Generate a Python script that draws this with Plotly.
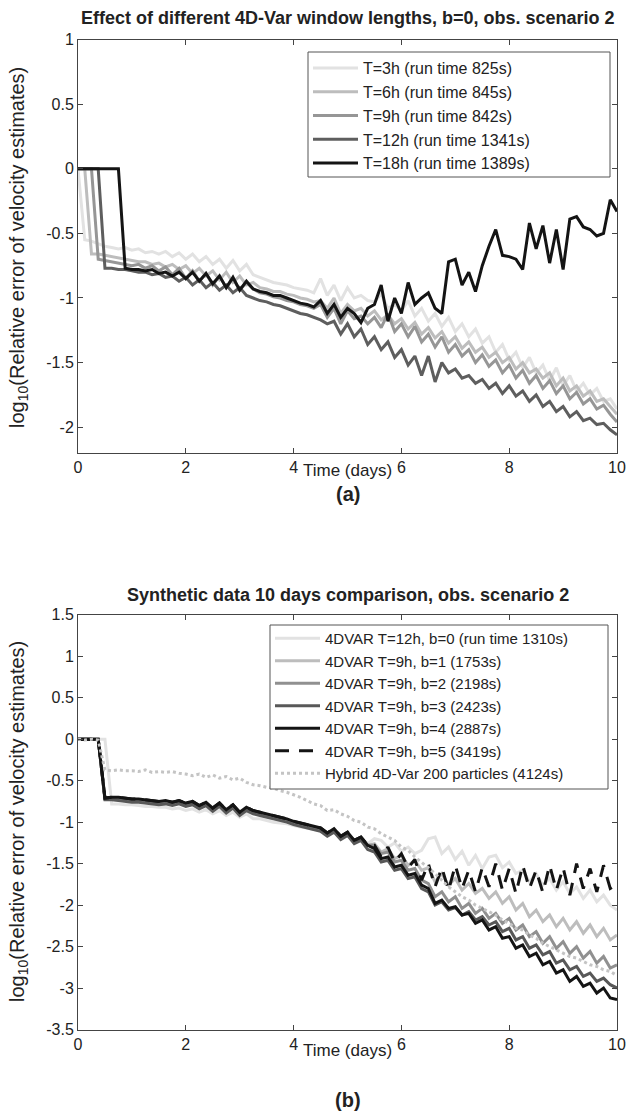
import plotly.graph_objects as go

FONT = "Liberation Sans, Arial, Helvetica, sans-serif"

# time axis (days), 3-hourly output
days = [0, 0.125, 0.25, 0.375, 0.5, 0.625, 0.75, 0.875, 1, 1.125,
        1.25, 1.375, 1.5, 1.625, 1.75, 1.875, 2, 2.125, 2.25, 2.375,
        2.5, 2.625, 2.75, 2.875, 3, 3.125, 3.25, 3.375, 3.5, 3.625,
        3.75, 3.875, 4, 4.125, 4.25, 4.375, 4.5, 4.625, 4.75, 4.875,
        5, 5.125, 5.25, 5.375, 5.5, 5.625, 5.75, 5.875, 6, 6.125,
        6.25, 6.375, 6.5, 6.625, 6.75, 6.875, 7, 7.125, 7.25, 7.375,
        7.5, 7.625, 7.75, 7.875, 8, 8.125, 8.25, 8.375, 8.5, 8.625,
        8.75, 8.875, 9, 9.125, 9.25, 9.375, 9.5, 9.625, 9.75, 9.875,
        10]

# (a) window lengths, b=0
win_3h = [0, -0.55, -0.56, -0.58, -0.60, -0.61, -0.62, -0.61, -0.63, -0.62,
          -0.65, -0.64, -0.66, -0.64, -0.68, -0.65, -0.70, -0.66, -0.72, -0.68,
          -0.74, -0.70, -0.77, -0.71, -0.79, -0.74, -0.82, -0.84, -0.86, -0.88,
          -0.89, -0.90, -0.92, -0.93, -0.94, -0.96, -0.85, -0.98, -0.90, -1.02,
          -0.92, -1.00, -0.98, -1.02, -1.03, -0.97, -1.08, -1.05, -1.10, -1.02,
          -1.14, -1.08, -1.18, -1.12, -1.22, -1.15, -1.26, -1.20, -1.30, -1.24,
          -1.35, -1.30, -1.42, -1.36, -1.48, -1.42, -1.54, -1.46, -1.58, -1.52,
          -1.64, -1.54, -1.68, -1.60, -1.72, -1.66, -1.75, -1.70, -1.80, -1.78,
          -1.86]
win_6h = [0, 0, -0.66, -0.66, -0.67, -0.68, -0.69, -0.70, -0.71, -0.72,
          -0.72, -0.74, -0.73, -0.76, -0.74, -0.78, -0.75, -0.81, -0.77, -0.83,
          -0.79, -0.86, -0.80, -0.88, -0.83, -0.90, -0.88, -0.92, -0.93, -0.95,
          -0.95, -0.97, -0.98, -1.00, -1.01, -1.03, -1.02, -1.08, -1.00, -1.12,
          -1.05, -1.10, -1.08, -1.14, -1.10, -1.17, -1.13, -1.20, -1.16, -1.24,
          -1.19, -1.28, -1.23, -1.31, -1.26, -1.35, -1.30, -1.39, -1.34, -1.42,
          -1.38, -1.46, -1.42, -1.50, -1.46, -1.55, -1.50, -1.58, -1.55, -1.62,
          -1.58, -1.68, -1.62, -1.72, -1.68, -1.76, -1.72, -1.80, -1.78, -1.84,
          -1.90]
win_9h = [0, 0, 0, -0.70, -0.71, -0.72, -0.73, -0.74, -0.75, -0.74,
          -0.77, -0.75, -0.79, -0.76, -0.82, -0.77, -0.85, -0.79, -0.87, -0.81,
          -0.90, -0.83, -0.92, -0.85, -0.94, -0.88, -0.93, -0.96, -0.97, -0.99,
          -1.00, -1.02, -1.03, -1.05, -1.06, -1.08, -1.05, -1.15, -1.08, -1.20,
          -1.10, -1.16, -1.14, -1.20, -1.15, -1.23, -1.12, -1.26, -1.20, -1.30,
          -1.22, -1.34, -1.28, -1.38, -1.30, -1.42, -1.36, -1.45, -1.40, -1.50,
          -1.44, -1.53, -1.48, -1.58, -1.52, -1.62, -1.56, -1.66, -1.60, -1.70,
          -1.64, -1.74, -1.68, -1.78, -1.73, -1.82, -1.78, -1.86, -1.83, -1.90,
          -1.96]
win_12h = [0, 0, 0, 0, -0.77, -0.77, -0.78, -0.78, -0.79, -0.80,
           -0.80, -0.82, -0.81, -0.84, -0.83, -0.87, -0.84, -0.90, -0.86, -0.92,
           -0.88, -0.94, -0.90, -0.96, -0.92, -0.98, -1.00, -1.02, -1.03, -1.05,
           -1.06, -1.08, -1.10, -1.12, -1.13, -1.15, -1.17, -1.20, -1.18, -1.28,
           -1.20, -1.30, -1.24, -1.36, -1.30, -1.40, -1.34, -1.46, -1.40, -1.52,
           -1.45, -1.60, -1.45, -1.65, -1.50, -1.58, -1.55, -1.62, -1.60, -1.66,
           -1.63, -1.70, -1.66, -1.74, -1.68, -1.76, -1.72, -1.80, -1.75, -1.84,
           -1.80, -1.88, -1.84, -1.92, -1.88, -1.95, -1.93, -1.98, -1.97, -2.02,
           -2.06]
win_18h = [0, 0, 0, 0, 0, 0, 0, -0.77, -0.78, -0.78,
           -0.79, -0.78, -0.81, -0.80, -0.83, -0.80, -0.85, -0.80, -0.87, -0.81,
           -0.89, -0.83, -0.92, -0.84, -0.94, -0.87, -0.93, -0.95, -0.96, -0.98,
           -0.98, -1.00, -1.02, -1.04, -1.05, -1.07, -1.02, -1.12, -1.05, -1.15,
           -1.08, -1.12, -1.19, -1.08, -1.05, -0.90, -1.18, -1.00, -1.12, -0.88,
           -1.05, -1.00, -0.96, -1.08, -1.12, -0.72, -0.70, -0.90, -0.80, -0.95,
           -0.75, -0.60, -0.47, -0.67, -0.68, -0.70, -0.78, -0.42, -0.62, -0.44,
           -0.73, -0.47, -0.78, -0.39, -0.37, -0.45, -0.47, -0.52, -0.50, -0.24,
           -0.33]

# (b) synthetic data comparison
b0_12h = [0, 0, 0, 0, 0, -0.78, -0.78, -0.79, -0.79, -0.80,
          -0.81, -0.81, -0.82, -0.82, -0.84, -0.83, -0.86, -0.84, -0.88, -0.85,
          -0.90, -0.86, -0.92, -0.88, -0.94, -0.90, -0.96, -0.96, -0.98, -1.00,
          -1.01, -1.02, -1.04, -1.06, -1.07, -1.09, -1.10, -1.14, -1.12, -1.18,
          -1.15, -1.22, -1.18, -1.26, -1.20, -1.22, -1.30, -1.25, -1.35, -1.30,
          -1.38, -1.34, -1.20, -1.18, -1.38, -1.30, -1.45, -1.35, -1.52, -1.40,
          -1.56, -1.42, -1.40, -1.55, -1.48, -1.62, -1.58, -1.72, -1.62, -1.76,
          -1.68, -1.82, -1.72, -1.86, -1.78, -1.92, -1.82, -1.96, -1.88, -2.00,
          -2.06]
b1_9h = [0, 0, 0, 0, -0.72, -0.71, -0.72, -0.73, -0.74, -0.74,
         -0.75, -0.76, -0.77, -0.76, -0.78, -0.76, -0.79, -0.77, -0.82, -0.78,
         -0.85, -0.79, -0.87, -0.81, -0.90, -0.84, -0.88, -0.90, -0.92, -0.94,
         -0.96, -0.98, -1.01, -1.03, -1.05, -1.07, -1.09, -1.14, -1.10, -1.18,
         -1.14, -1.22, -1.20, -1.28, -1.26, -1.36, -1.32, -1.44, -1.40, -1.52,
         -1.46, -1.58, -1.55, -1.72, -1.62, -1.76, -1.68, -1.82, -1.74, -1.86,
         -1.80, -1.92, -1.84, -1.98, -1.90, -2.06, -1.98, -2.14, -2.06, -2.20,
         -2.12, -2.26, -2.16, -2.30, -2.20, -2.34, -2.24, -2.38, -2.28, -2.42,
         -2.36]
b2_9h = [0, 0, 0, 0, -0.72, -0.71, -0.72, -0.73, -0.74, -0.74,
         -0.75, -0.76, -0.77, -0.76, -0.78, -0.76, -0.79, -0.77, -0.82, -0.78,
         -0.85, -0.79, -0.87, -0.81, -0.90, -0.84, -0.88, -0.90, -0.92, -0.94,
         -0.96, -0.98, -1.01, -1.03, -1.05, -1.07, -1.09, -1.14, -1.10, -1.18,
         -1.14, -1.22, -1.20, -1.28, -1.28, -1.38, -1.36, -1.48, -1.46, -1.58,
         -1.56, -1.70, -1.74, -1.90, -1.84, -1.96, -1.90, -2.04, -1.98, -2.10,
         -2.04, -2.16, -2.10, -2.22, -2.16, -2.30, -2.24, -2.38, -2.32, -2.46,
         -2.38, -2.52, -2.44, -2.58, -2.50, -2.64, -2.56, -2.70, -2.62, -2.76,
         -2.72]
b3_9h = [0, 0, 0, 0, -0.73, -0.73, -0.74, -0.75, -0.76, -0.76,
         -0.77, -0.78, -0.79, -0.78, -0.80, -0.78, -0.81, -0.79, -0.84, -0.80,
         -0.87, -0.81, -0.89, -0.83, -0.92, -0.86, -0.90, -0.92, -0.94, -0.96,
         -0.98, -1.00, -1.03, -1.05, -1.07, -1.09, -1.11, -1.17, -1.12, -1.21,
         -1.16, -1.26, -1.22, -1.33, -1.36, -1.48, -1.46, -1.58, -1.56, -1.68,
         -1.66, -1.80, -1.84, -2.00, -1.96, -2.06, -2.03, -2.12, -2.08, -2.18,
         -2.14, -2.24, -2.20, -2.32, -2.28, -2.42, -2.38, -2.52, -2.48, -2.60,
         -2.56, -2.70, -2.66, -2.78, -2.74, -2.86, -2.82, -2.92, -2.88, -2.96,
         -3.00]
b4_9h = [0, 0, 0, 0, -0.71, -0.70, -0.70, -0.71, -0.72, -0.72,
         -0.73, -0.74, -0.75, -0.74, -0.76, -0.74, -0.77, -0.75, -0.80, -0.76,
         -0.83, -0.77, -0.85, -0.79, -0.88, -0.82, -0.86, -0.88, -0.90, -0.92,
         -0.94, -0.96, -0.99, -1.01, -1.03, -1.05, -1.07, -1.13, -1.08, -1.17,
         -1.12, -1.22, -1.18, -1.28, -1.32, -1.44, -1.42, -1.54, -1.52, -1.64,
         -1.62, -1.76, -1.80, -1.98, -1.94, -2.04, -2.02, -2.12, -2.10, -2.22,
         -2.18, -2.30, -2.26, -2.40, -2.38, -2.52, -2.48, -2.62, -2.58, -2.72,
         -2.68, -2.82, -2.78, -2.92, -2.86, -2.98, -2.94, -3.06, -3.00, -3.12,
         -3.14]
b5_9h = [0, 0, 0, 0, -0.71, -0.70, -0.70, -0.71, -0.72, -0.72,
         -0.73, -0.74, -0.75, -0.74, -0.76, -0.74, -0.77, -0.75, -0.80, -0.76,
         -0.83, -0.77, -0.85, -0.79, -0.88, -0.82, -0.86, -0.88, -0.90, -0.92,
         -0.94, -0.96, -0.99, -1.01, -1.03, -1.05, -1.07, -1.13, -1.08, -1.17,
         -1.12, -1.22, -1.18, -1.28, -1.28, -1.42, -1.30, -1.48, -1.38, -1.55,
         -1.45, -1.70, -1.50, -1.78, -1.55, -1.82, -1.52, -1.80, -1.58, -1.84,
         -1.55, -1.78, -1.50, -1.82, -1.56, -1.86, -1.52, -1.80, -1.58, -1.85,
         -1.52, -1.82, -1.55, -1.88, -1.50, -1.80, -1.56, -1.84, -1.52, -1.80,
         -1.75]
hybrid = [0, -0.01, 0, -0.01, -0.37, -0.38, -0.37, -0.38, -0.38, -0.39,
          -0.37, -0.40, -0.39, -0.40, -0.39, -0.41, -0.42, -0.44, -0.42, -0.46,
          -0.43, -0.47, -0.45, -0.49, -0.47, -0.52, -0.55, -0.56, -0.58, -0.59,
          -0.62, -0.64, -0.67, -0.70, -0.74, -0.78, -0.80, -0.86, -0.85, -0.90,
          -0.93, -0.98, -1.00, -1.06, -1.08, -1.14, -1.18, -1.22, -1.30, -1.34,
          -1.42, -1.48, -1.55, -1.62, -1.70, -1.78, -1.84, -1.90, -1.94, -2.00,
          -2.04, -2.08, -2.12, -2.18, -2.22, -2.28, -2.30, -2.36, -2.40, -2.46,
          -2.50, -2.54, -2.58, -2.62, -2.64, -2.68, -2.72, -2.74, -2.78, -2.80,
          -2.85]

top_series = [
    ("T=3h (run time 825s)", win_3h, "#e2e2e2", "solid"),
    ("T=6h (run time 845s)", win_6h, "#bdbdbd", "solid"),
    ("T=9h (run time 842s)", win_9h, "#969696", "solid"),
    ("T=12h (run time 1341s)", win_12h, "#5e5e5e", "solid"),
    ("T=18h (run time 1389s)", win_18h, "#141414", "solid"),
]
bottom_series = [
    ("4DVAR T=12h, b=0 (run time 1310s)", b0_12h, "#e2e2e2", "solid"),
    ("4DVAR T=9h, b=1 (1753s)", b1_9h, "#bdbdbd", "solid"),
    ("4DVAR T=9h, b=2 (2198s)", b2_9h, "#909090", "solid"),
    ("4DVAR T=9h, b=3 (2423s)", b3_9h, "#585858", "solid"),
    ("4DVAR T=9h, b=4 (2887s)", b4_9h, "#141414", "solid"),
    ("4DVAR T=9h, b=5 (3419s)", b5_9h, "#141414", "14px,10px"),
    ("Hybrid 4D-Var 200 particles (4124s)", hybrid, "#c4c4c4", "dot"),
]

x_ticks = [0, 2, 4, 6, 8, 10]
top_yticks = [1, 0.5, 0, -0.5, -1, -1.5, -2]
top_ytext = ["1", "0.5", "0", "-0.5", "-1", "-1.5", "-2"]
bot_yticks = [1.5, 1, 0.5, 0, -0.5, -1, -1.5, -2, -2.5, -3, -3.5]
bot_ytext = ["1.5", "1", "0.5", "0", "-0.5", "-1", "-1.5", "-2", "-2.5", "-3", "-3.5"]

W, H = 630, 1119


def py(px):
    return 1 - px / H


fig = go.Figure()
for name, vals, color, dash in top_series:
    fig.add_trace(go.Scatter(x=days, y=vals, name=name, mode="lines",
                             line=dict(color=color, width=3, dash=dash),
                             xaxis="x", yaxis="y", legend="legend"))
for name, vals, color, dash in bottom_series:
    fig.add_trace(go.Scatter(x=days, y=vals, name=name, mode="lines",
                             line=dict(color=color, width=3, dash=dash),
                             xaxis="x2", yaxis="y2", legend="legend2"))

axis_style = dict(showline=True, linecolor="#444444", linewidth=1, mirror="ticks",
                  ticks="inside", ticklen=5, tickcolor="#444444", showgrid=False,
                  zeroline=False, tickfont=dict(family=FONT, size=16, color="#222222"))
xdom = [78 / W, 617 / W]

legend_style = dict(xanchor="left", yanchor="top", bgcolor="rgba(0,0,0,0)",
                    borderwidth=0, itemwidth=45)

fig.update_layout(
    width=W, height=H, template="none",
    paper_bgcolor="white", plot_bgcolor="white",
    margin=dict(l=0, r=0, t=0, b=0),
    font=dict(family=FONT, color="#222222"),
    xaxis=dict(domain=xdom, range=[0, 10], tickvals=x_ticks, anchor="y", **axis_style),
    yaxis=dict(domain=[py(453), py(39.6)], range=[-2.2, 1], tickvals=top_yticks,
               ticktext=top_ytext, anchor="x", **axis_style),
    xaxis2=dict(domain=xdom, range=[0, 10], tickvals=x_ticks, anchor="y2", **axis_style),
    yaxis2=dict(domain=[py(1029.5), py(614.8)], range=[-3.5, 1.5], tickvals=bot_yticks,
                ticktext=bot_ytext, anchor="x2", **axis_style),
    legend=dict(x=308 / W, y=py(51), font=dict(family=FONT, size=16, color="#222222"),
                **legend_style),
    legend2=dict(x=270 / W, y=py(622), font=dict(family=FONT, size=15, color="#222222"),
                 **legend_style),
    showlegend=True,
)

# legend frames (MATLAB draws them wider than plotly's text-fitted box)
for x0, x1, y0, y1 in [(308, 610, 52, 177), (270, 608, 625, 789)]:
    fig.add_shape(type="rect", xref="paper", yref="paper",
                  x0=x0 / W, x1=x1 / W, y0=py(y1), y1=py(y0), layer="above",
                  fillcolor="white", line=dict(color="#555555", width=1))

xc = (78 + 617) / 2 / W
notes = [
    ("<b>Effect of different 4D-Var window lengths, b=0, obs. scenario 2</b>", xc, 18, 18, 0),
    ("Time (days)", xc, 470, 17, 0),
    ("<b>(a)</b>", xc, 494, 20, 0),
    ("<b>Synthetic data 10 days comparison, obs. scenario 2</b>", xc, 595, 18, 0),
    ("Time (days)", xc, 1050, 17, 0),
    ("<b>(b)</b>", xc, 1100, 20, 0),
    ("log<sub>10</sub>(Relative error of velocity estimates)", 18 / W, 248, 20, -90),
    ("log<sub>10</sub>(Relative error of velocity estimates)", 18 / W, 822, 20, -90),
]
for text, x, y, size, angle in notes:
    fig.add_annotation(text=text, x=x, y=py(y), xref="paper", yref="paper",
                       xanchor="center", yanchor="middle", showarrow=False,
                       textangle=angle, font=dict(family=FONT, size=size, color="#222222"))

# drop the default body margin so the 630x1119 figure fills the window exactly
fig.write_html("out.html", config={"displayModeBar": False},
               post_script="document.body.style.margin='0';document.body.style.overflow='hidden';")
